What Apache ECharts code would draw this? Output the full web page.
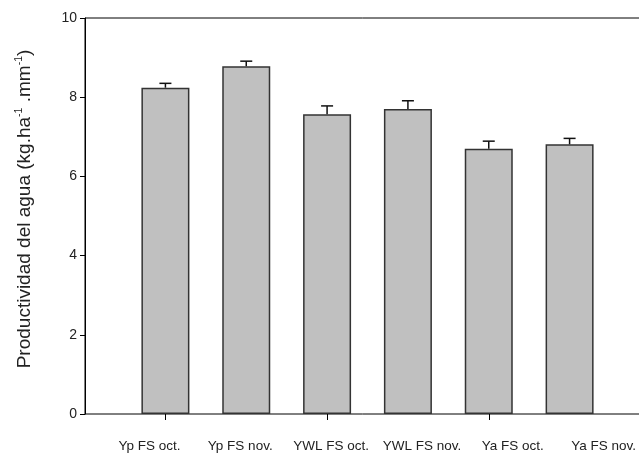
<!DOCTYPE html>
<html>
<head>
<meta charset="utf-8">
<script src="https://cdn.jsdelivr.net/npm/echarts@6/dist/echarts.min.js"></script>
<style>
  html, body { margin: 0; padding: 0; background: #fff; }
  #chart { width: 639px; height: 464px; }
</style>
</head>
<body>
<div id="chart"></div>
<script>
// Water productivity per treatment, with standard error (upper whisker only)
const categories = ['Yp FS oct.', 'Yp FS nov.', 'YWL FS oct.', 'YWL FS nov.', 'Ya FS oct.', 'Ya FS nov.'];
const productivity = [8.24, 8.78, 7.57, 7.70, 6.70, 6.81];
const stdError = [0.11, 0.13, 0.21, 0.21, 0.19, 0.15];
const yTicks = [0, 2, 4, 6, 8, 10];

const FONT = '"Liberation Sans", Arial, sans-serif';
const chart = echarts.init(document.getElementById('chart'), null, { renderer: 'canvas' });

const plotTop = 18, plotBottom = 50;

chart.setOption({
  animation: false,
  backgroundColor: '#fff',
  grid: [
    // frame with the value axis; its right edge runs past the canvas
    { left: 85, width: 580, top: plotTop, bottom: plotBottom, outerBoundsMode: 'none', containLabel: false,
      show: true, borderColor: '#000', borderWidth: 1, backgroundColor: 'transparent' },
    // bars
    { left: 125, right: 29, top: plotTop, bottom: plotBottom, outerBoundsMode: 'none', containLabel: false },
    // category labels, spread a little wider than the bars
    { left: 104, width: 545, top: plotTop, bottom: plotBottom, outerBoundsMode: 'none', containLabel: false }
  ],
  xAxis: [
    { gridIndex: 0, type: 'value', min: 0, max: 1, show: false },
    {
      gridIndex: 1, type: 'category', data: categories,
      axisLine: { show: false },
      axisTick: { show: true, alignWithLabel: true, length: 6, lineStyle: { color: '#000', width: 1 } },
      axisLabel: { show: false }
    },
    {
      gridIndex: 2, type: 'category', data: categories,
      axisLine: { show: false }, axisTick: { show: false },
      axisLabel: { show: true, interval: 0, hideOverlap: false, margin: 25, fontFamily: FONT, fontSize: 13.5, color: '#222' }
    }
  ],
  yAxis: [
    {
      gridIndex: 0, type: 'value', min: yTicks[0], max: yTicks[yTicks.length - 1], interval: 2,
      splitLine: { show: false },
      axisLine: { show: true, lineStyle: { color: '#000', width: 1 } },
      axisTick: { show: true, length: 5, lineStyle: { color: '#000', width: 1 } },
      axisLabel: { margin: 8, fontFamily: FONT, fontSize: 14, color: '#222' },
      name: '{a|Productividad del agua (kg.ha}{s|-1}{a| .mm}{s|-1}{a|)}',
      nameLocation: 'middle', nameRotate: 90, nameGap: 50,
      nameTextStyle: {
        padding: [0, 0, 0, 14],
        rich: {
          a: { fontFamily: FONT, fontSize: 19, color: '#222' },
          s: { fontFamily: FONT, fontSize: 10.5, color: '#222', verticalAlign: 'top', padding: [0, 0, 10, 0] }
        }
      }
    },
    { gridIndex: 1, type: 'value', min: 0, max: 10, show: false },
    { gridIndex: 2, type: 'value', min: 0, max: 10, show: false }
  ],
  series: [
    {
      type: 'bar', xAxisIndex: 1, yAxisIndex: 1,
      data: productivity, barWidth: 48,
      itemStyle: { color: '#c0c0c0', borderColor: '#333', borderWidth: 1.5 },
      z: 2
    },
    {
      type: 'custom', xAxisIndex: 1, yAxisIndex: 1,
      data: productivity.map((v, i) => [i, v, v + stdError[i]]),
      renderItem: function (params, api) {
        const base = api.coord([api.value(0), api.value(1)]);
        const tip = api.coord([api.value(0), api.value(2)]);
        const hw = 6;
        const style = { stroke: '#111', lineWidth: 1.5 };
        return {
          type: 'group',
          children: [
            { type: 'line', shape: { x1: base[0], y1: base[1], x2: tip[0], y2: tip[1] }, style: style },
            { type: 'line', shape: { x1: tip[0] - hw, y1: tip[1], x2: tip[0] + hw, y2: tip[1] }, style: style }
          ]
        };
      },
      z: 3
    }
  ]
});
</script>
</body>
</html>
